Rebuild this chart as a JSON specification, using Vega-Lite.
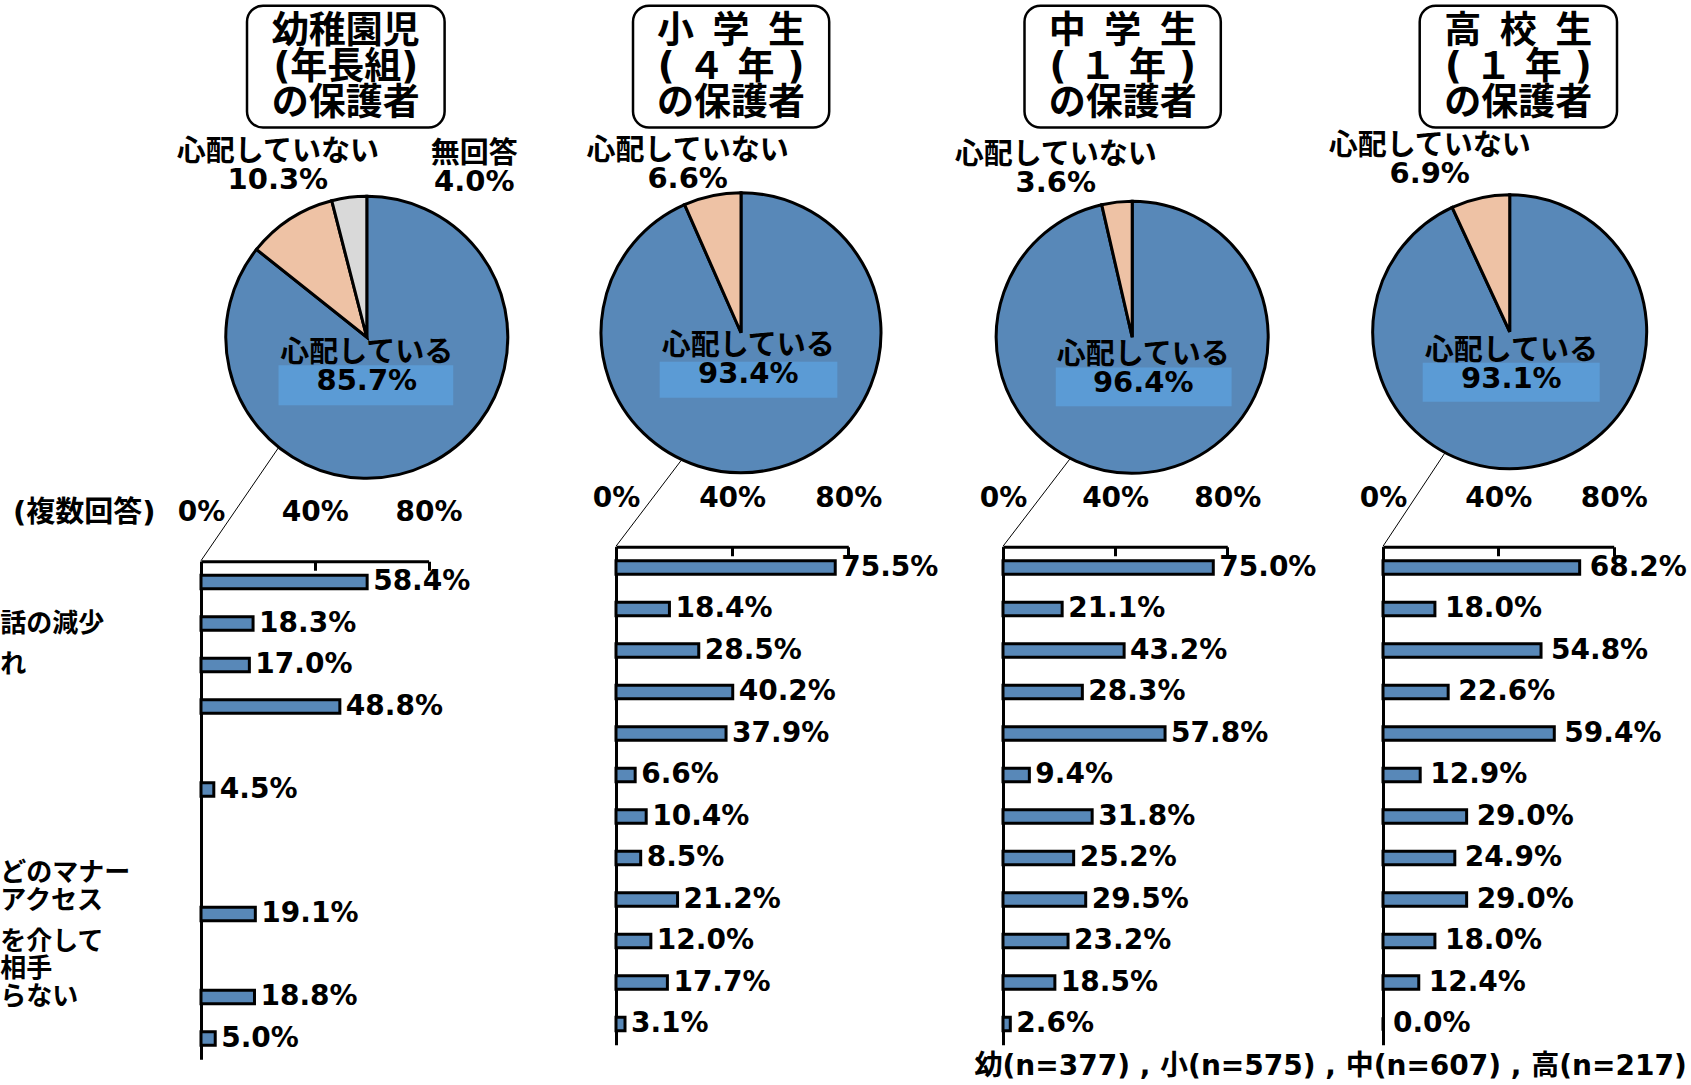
{
  "$schema": "https://vega.github.io/schema/vega-lite/v6.json",
  "background": "white",
  "padding": {"left": 0, "top": 3.75, "right": 0, "bottom": 0},
  "columns": 7,
  "bounds": "flush",
  "spacing": 0,
  "datasets": {
    "pies": [
      {"g": "幼", "c": "心配している", "v": 85.7, "ord": 1},
      {"g": "幼", "c": "心配していない", "v": 10.3, "ord": 2},
      {"g": "幼", "c": "無回答", "v": 4.0, "ord": 3},
      {"g": "小", "c": "心配している", "v": 93.4, "ord": 1},
      {"g": "小", "c": "心配していない", "v": 6.6, "ord": 2},
      {"g": "中", "c": "心配している", "v": 96.4, "ord": 1},
      {"g": "中", "c": "心配していない", "v": 3.6, "ord": 2},
      {"g": "高", "c": "心配している", "v": 93.1, "ord": 1},
      {"g": "高", "c": "心配していない", "v": 6.9, "ord": 2}
    ],
    "bars": [
      {"g": "幼", "q": "1", "v": 58.4}, {"g": "幼", "q": "2", "v": 18.3}, {"g": "幼", "q": "3", "v": 17.0}, {"g": "幼", "q": "4", "v": 48.8},
      {"g": "幼", "q": "6", "v": 4.5}, {"g": "幼", "q": "9", "v": 19.1}, {"g": "幼", "q": "11", "v": 18.8}, {"g": "幼", "q": "12", "v": 5.0},
      {"g": "小", "q": "1", "v": 75.5}, {"g": "小", "q": "2", "v": 18.4}, {"g": "小", "q": "3", "v": 28.5}, {"g": "小", "q": "4", "v": 40.2},
      {"g": "小", "q": "5", "v": 37.9}, {"g": "小", "q": "6", "v": 6.6}, {"g": "小", "q": "7", "v": 10.4}, {"g": "小", "q": "8", "v": 8.5},
      {"g": "小", "q": "9", "v": 21.2}, {"g": "小", "q": "10", "v": 12.0}, {"g": "小", "q": "11", "v": 17.7}, {"g": "小", "q": "12", "v": 3.1},
      {"g": "中", "q": "1", "v": 75.0}, {"g": "中", "q": "2", "v": 21.1}, {"g": "中", "q": "3", "v": 43.2}, {"g": "中", "q": "4", "v": 28.3},
      {"g": "中", "q": "5", "v": 57.8}, {"g": "中", "q": "6", "v": 9.4}, {"g": "中", "q": "7", "v": 31.8}, {"g": "中", "q": "8", "v": 25.2},
      {"g": "中", "q": "9", "v": 29.5}, {"g": "中", "q": "10", "v": 23.2}, {"g": "中", "q": "11", "v": 18.5}, {"g": "中", "q": "12", "v": 2.6},
      {"g": "高", "q": "1", "v": 68.2}, {"g": "高", "q": "2", "v": 18.0}, {"g": "高", "q": "3", "v": 54.8}, {"g": "高", "q": "4", "v": 22.6},
      {"g": "高", "q": "5", "v": 59.4}, {"g": "高", "q": "6", "v": 12.9}, {"g": "高", "q": "7", "v": 29.0}, {"g": "高", "q": "8", "v": 24.9},
      {"g": "高", "q": "9", "v": 29.0}, {"g": "高", "q": "10", "v": 18.0}, {"g": "高", "q": "11", "v": 12.4}, {"g": "高", "q": "12", "v": 0.0}
    ],
    "frags": [
      {"q": "2", "f": "話の減少"},
      {"q": "3", "f": "れ"},
      {"q": "8", "f": "どのマナー"},
      {"q": "9", "f": ["アクセス", ""]},
      {"q": "10", "f": ["を介して", "相手"]},
      {"q": "11", "f": "らない"}
    ]
  },
  "concat": [
    {"width": 227.6, "height": 540.5,
     "layer": [
      {"data": {"values": [{}]}, "mark": {"type": "rect", "fill": "white", "stroke": "black", "strokeWidth": 2.5, "cornerRadius": 16},
       "encoding": {"x": {"datum": -0.8496, "type": "quantitative", "scale": {"domain": [-1.1759, 0.4383], "nice": false, "zero": false}, "axis": null}, "x2": {"datum": 0.5518},
                    "y": {"datum": -2.3511, "type": "quantitative", "scale": {"domain": [-2.3511, 1.4823], "nice": false, "zero": false, "reverse": true}, "axis": null}, "y2": {"datum": -1.4879}}},
      {"data": {"values": [{"t": ["幼稚園児", "(年長組)", "の保護者"]}]},
       "mark": {"type": "text", "fontSize": 37, "fontWeight": "bold", "lineHeight": 36, "baseline": "middle", "align": "center"},
       "encoding": {"x": {"datum": -0.1489, "type": "quantitative"}, "y": {"datum": -2.1667, "type": "quantitative"}, "text": {"field": "t", "type": "nominal"}}},
      {"data": {"name": "pies"}, "transform": [{"filter": "datum.g === '幼'"}],
       "mark": {"type": "arc", "radius": 141, "stroke": "black", "strokeWidth": 3},
       "encoding": {
         "x": {"datum": 0, "type": "quantitative"},
         "y": {"datum": 0, "type": "quantitative"},
         "theta": {"field": "v", "type": "quantitative", "stack": true},
         "order": {"field": "ord", "type": "quantitative"},
         "color": {"field": "c", "type": "nominal", "scale": {"domain": ["心配している", "心配していない", "無回答"], "range": ["#5888b8", "#eec2a5", "#d9d9d9"]}, "legend": null}
       }},
      {"data": {"values": [{}]}, "mark": {"type": "rect", "fill": "#5b9bd5"},
       "encoding": {"x": {"datum": -0.626, "type": "quantitative"}, "x2": {"datum": 0.613}, "y": {"datum": 0.199, "type": "quantitative"}, "y2": {"datum": 0.482}}},
      {"data": {"name": "pies"}, "transform": [{"filter": "datum.g === '幼' && datum.c === '心配している'"}, {"calculate": "[datum.c, format(datum.v, '.1f') + '%']", "as": "lab"}],
       "mark": {"type": "text", "fontSize": 29, "fontWeight": "bold", "lineHeight": 28, "baseline": "middle", "align": "center"},
       "encoding": {"x": {"datum": 0, "type": "quantitative"}, "y": {"datum": 0.112, "type": "quantitative"}, "text": {"field": "lab", "type": "nominal"}}},
      {"data": {"name": "pies"}, "transform": [{"filter": "datum.g === '幼' && datum.c === '心配していない'"}, {"calculate": "[datum.c, format(datum.v, '.1f') + '%']", "as": "lab"}],
       "mark": {"type": "text", "fontSize": 29, "fontWeight": "bold", "lineHeight": 28, "baseline": "middle", "align": "center"},
       "encoding": {"x": {"datum": -0.631, "type": "quantitative"}, "y": {"datum": -1.312, "type": "quantitative"}, "text": {"field": "lab", "type": "nominal"}}},
      {"data": {"name": "pies"}, "transform": [{"filter": "datum.g === '幼' && datum.c === '無回答'"}, {"calculate": "[datum.c, format(datum.v, '.1f') + '%']", "as": "lab"}],
       "mark": {"type": "text", "fontSize": 29, "fontWeight": "bold", "lineHeight": 28, "baseline": "middle", "align": "center"},
       "encoding": {"x": {"datum": 0.762, "type": "quantitative"}, "y": {"datum": -1.298, "type": "quantitative"}, "text": {"field": "lab", "type": "nominal"}}},
      {"data": {"values": [{}]}, "mark": {"type": "rule", "stroke": "black", "strokeWidth": 1},
       "encoding": {"x": {"datum": -0.624, "type": "quantitative"}, "y": {"datum": 0.78, "type": "quantitative"}, "x2": {"datum": -1.176}, "y2": {"datum": 1.585}}}
     ]},
    {"width": 186.7, "height": 1, "data": {"values": []}, "mark": "point"},
    {"width": 232.3, "height": 540.5,
     "layer": [
      {"data": {"values": [{}]}, "mark": {"type": "rect", "fill": "white", "stroke": "black", "strokeWidth": 2.5, "cornerRadius": 16},
       "encoding": {"x": {"datum": -0.7714, "type": "quantitative", "scale": {"domain": [-0.8929, 0.7664], "nice": false, "zero": false}, "axis": null}, "x2": {"datum": 0.63},
                    "y": {"datum": -2.3357, "type": "quantitative", "scale": {"domain": [-2.3357, 1.525], "nice": false, "zero": false, "reverse": true}, "axis": null}, "y2": {"datum": -1.4664}}},
      {"data": {"values": [{"t": ["小\u2002学\u2002生", "( ４ 年 )", "の保護者"]}]},
       "mark": {"type": "text", "fontSize": 37, "fontWeight": "bold", "lineHeight": 36, "baseline": "middle", "align": "center"},
       "encoding": {"x": {"datum": -0.0707, "type": "quantitative"}, "y": {"datum": -2.15, "type": "quantitative"}, "text": {"field": "t", "type": "nominal"}}},
      {"data": {"name": "pies"}, "transform": [{"filter": "datum.g === '小'"}],
       "mark": {"type": "arc", "radius": 140, "stroke": "black", "strokeWidth": 3},
       "encoding": {
         "x": {"datum": 0, "type": "quantitative"},
         "y": {"datum": 0, "type": "quantitative"},
         "theta": {"field": "v", "type": "quantitative", "stack": true},
         "order": {"field": "ord", "type": "quantitative"},
         "color": {"field": "c", "type": "nominal", "scale": {"domain": ["心配している", "心配していない", "無回答"], "range": ["#5888b8", "#eec2a5", "#d9d9d9"]}, "legend": null}
       }},
      {"data": {"values": [{}]}, "mark": {"type": "rect", "fill": "#5b9bd5"},
       "encoding": {"x": {"datum": -0.581, "type": "quantitative"}, "x2": {"datum": 0.688}, "y": {"datum": 0.207, "type": "quantitative"}, "y2": {"datum": 0.464}}},
      {"data": {"name": "pies"}, "transform": [{"filter": "datum.g === '小' && datum.c === '心配している'"}, {"calculate": "[datum.c, format(datum.v, '.1f') + '%']", "as": "lab"}],
       "mark": {"type": "text", "fontSize": 29, "fontWeight": "bold", "lineHeight": 28, "baseline": "middle", "align": "center"},
       "encoding": {"x": {"datum": 0.052, "type": "quantitative"}, "y": {"datum": 0.098, "type": "quantitative"}, "text": {"field": "lab", "type": "nominal"}}},
      {"data": {"name": "pies"}, "transform": [{"filter": "datum.g === '小' && datum.c === '心配していない'"}, {"calculate": "[datum.c, format(datum.v, '.1f') + '%']", "as": "lab"}],
       "mark": {"type": "text", "fontSize": 29, "fontWeight": "bold", "lineHeight": 28, "baseline": "middle", "align": "center"},
       "encoding": {"x": {"datum": -0.381, "type": "quantitative"}, "y": {"datum": -1.3, "type": "quantitative"}, "text": {"field": "lab", "type": "nominal"}}},
      {"data": {"values": [{}]}, "mark": {"type": "rule", "stroke": "black", "strokeWidth": 1},
       "encoding": {"x": {"datum": -0.429, "type": "quantitative"}, "y": {"datum": 0.914, "type": "quantitative"}, "x2": {"datum": -0.893}, "y2": {"datum": 1.525}}}
     ]},
    {"width": 153.5, "height": 1, "data": {"values": []}, "mark": "point"},
    {"width": 224.3, "height": 540.5,
     "layer": [
      {"data": {"values": [{}]}, "mark": {"type": "rect", "fill": "white", "stroke": "black", "strokeWidth": 2.5, "cornerRadius": 16},
       "encoding": {"x": {"datum": -0.7919, "type": "quantitative", "scale": {"domain": [-0.95, 0.6993], "nice": false, "zero": false}, "axis": null}, "x2": {"datum": 0.6515},
                    "y": {"datum": -2.4375, "type": "quantitative", "scale": {"domain": [-2.4375, 1.5368], "nice": false, "zero": false, "reverse": true}, "axis": null}, "y2": {"datum": -1.5426}}},
      {"data": {"values": [{"t": ["中\u2002学\u2002生", "( １ 年 )", "の保護者"]}]},
       "mark": {"type": "text", "fontSize": 37, "fontWeight": "bold", "lineHeight": 36, "baseline": "middle", "align": "center"},
       "encoding": {"x": {"datum": -0.0702, "type": "quantitative"}, "y": {"datum": -2.2463, "type": "quantitative"}, "text": {"field": "t", "type": "nominal"}}},
      {"data": {"name": "pies"}, "transform": [{"filter": "datum.g === '中'"}],
       "mark": {"type": "arc", "radius": 136, "stroke": "black", "strokeWidth": 3},
       "encoding": {
         "x": {"datum": 0, "type": "quantitative"},
         "y": {"datum": 0, "type": "quantitative"},
         "theta": {"field": "v", "type": "quantitative", "stack": true},
         "order": {"field": "ord", "type": "quantitative"},
         "color": {"field": "c", "type": "nominal", "scale": {"domain": ["心配している", "心配していない", "無回答"], "range": ["#5888b8", "#eec2a5", "#d9d9d9"]}, "legend": null}
       }},
      {"data": {"values": [{}]}, "mark": {"type": "rect", "fill": "#5b9bd5"},
       "encoding": {"x": {"datum": -0.562, "type": "quantitative"}, "x2": {"datum": 0.731}, "y": {"datum": 0.222, "type": "quantitative"}, "y2": {"datum": 0.507}}},
      {"data": {"name": "pies"}, "transform": [{"filter": "datum.g === '中' && datum.c === '心配している'"}, {"calculate": "[datum.c, format(datum.v, '.1f') + '%']", "as": "lab"}],
       "mark": {"type": "text", "fontSize": 29, "fontWeight": "bold", "lineHeight": 28, "baseline": "middle", "align": "center"},
       "encoding": {"x": {"datum": 0.081, "type": "quantitative"}, "y": {"datum": 0.134, "type": "quantitative"}, "text": {"field": "lab", "type": "nominal"}}},
      {"data": {"name": "pies"}, "transform": [{"filter": "datum.g === '中' && datum.c === '心配していない'"}, {"calculate": "[datum.c, format(datum.v, '.1f') + '%']", "as": "lab"}],
       "mark": {"type": "text", "fontSize": 29, "fontWeight": "bold", "lineHeight": 28, "baseline": "middle", "align": "center"},
       "encoding": {"x": {"datum": -0.562, "type": "quantitative"}, "y": {"datum": -1.342, "type": "quantitative"}, "text": {"field": "lab", "type": "nominal"}}},
      {"data": {"values": [{}]}, "mark": {"type": "rule", "stroke": "black", "strokeWidth": 1},
       "encoding": {"x": {"datum": -0.459, "type": "quantitative"}, "y": {"datum": 0.896, "type": "quantitative"}, "x2": {"datum": -0.95}, "y2": {"datum": 1.537}}}
     ]},
    {"width": 154.2, "height": 1, "data": {"values": []}, "mark": "point"},
    {"width": 230.7, "height": 540.5,
     "layer": [
      {"data": {"values": [{}]}, "mark": {"type": "rect", "fill": "white", "stroke": "black", "strokeWidth": 2.5, "cornerRadius": 16},
       "encoding": {"x": {"datum": -0.6569, "type": "quantitative", "scale": {"domain": [-0.9248, 0.7591], "nice": false, "zero": false}, "axis": null}, "x2": {"datum": 0.7832},
                    "y": {"datum": -2.3796, "type": "quantitative", "scale": {"domain": [-2.3796, 1.5657], "nice": false, "zero": false, "reverse": true}, "axis": null}, "y2": {"datum": -1.4912}}},
      {"data": {"values": [{"t": ["高\u2002校\u2002生", "( １ 年 )", "の保護者"]}]},
       "mark": {"type": "text", "fontSize": 37, "fontWeight": "bold", "lineHeight": 36, "baseline": "middle", "align": "center"},
       "encoding": {"x": {"datum": 0.0631, "type": "quantitative"}, "y": {"datum": -2.1898, "type": "quantitative"}, "text": {"field": "t", "type": "nominal"}}},
      {"data": {"name": "pies"}, "transform": [{"filter": "datum.g === '高'"}],
       "mark": {"type": "arc", "radius": 137, "stroke": "black", "strokeWidth": 3},
       "encoding": {
         "x": {"datum": 0, "type": "quantitative"},
         "y": {"datum": 0, "type": "quantitative"},
         "theta": {"field": "v", "type": "quantitative", "stack": true},
         "order": {"field": "ord", "type": "quantitative"},
         "color": {"field": "c", "type": "nominal", "scale": {"domain": ["心配している", "心配していない", "無回答"], "range": ["#5888b8", "#eec2a5", "#d9d9d9"]}, "legend": null}
       }},
      {"data": {"values": [{}]}, "mark": {"type": "rect", "fill": "#5b9bd5"},
       "encoding": {"x": {"datum": -0.635, "type": "quantitative"}, "x2": {"datum": 0.657}, "y": {"datum": 0.226, "type": "quantitative"}, "y2": {"datum": 0.511}}},
      {"data": {"name": "pies"}, "transform": [{"filter": "datum.g === '高' && datum.c === '心配している'"}, {"calculate": "[datum.c, format(datum.v, '.1f') + '%']", "as": "lab"}],
       "mark": {"type": "text", "fontSize": 29, "fontWeight": "bold", "lineHeight": 28, "baseline": "middle", "align": "center"},
       "encoding": {"x": {"datum": 0.012, "type": "quantitative"}, "y": {"datum": 0.139, "type": "quantitative"}, "text": {"field": "lab", "type": "nominal"}}},
      {"data": {"name": "pies"}, "transform": [{"filter": "datum.g === '高' && datum.c === '心配していない'"}, {"calculate": "[datum.c, format(datum.v, '.1f') + '%']", "as": "lab"}],
       "mark": {"type": "text", "fontSize": 29, "fontWeight": "bold", "lineHeight": 28, "baseline": "middle", "align": "center"},
       "encoding": {"x": {"datum": -0.584, "type": "quantitative"}, "y": {"datum": -1.357, "type": "quantitative"}, "text": {"field": "lab", "type": "nominal"}}},
      {"data": {"values": [{}]}, "mark": {"type": "rule", "stroke": "black", "strokeWidth": 1},
       "encoding": {"x": {"datum": -0.47, "type": "quantitative"}, "y": {"datum": 0.88, "type": "quantitative"}, "x2": {"datum": -0.925}, "y2": {"datum": 1.566}}}
     ]},

    {"width": 227.6, "height": 512.5,
     "encoding": {"y": {"field": "q", "type": "nominal", "scale": {"domain": ["1","2","3","4","5","6","7","8","9","10","11","12"], "range": [14.5, 512.5], "paddingInner": 0.67, "paddingOuter": 0.335},
       "axis": {"orient": "left", "labels": false, "ticks": false, "title": null, "domainColor": "black", "domainWidth": 3, "grid": false}}},
     "layer": [
      {"data": {"name": "bars"}, "transform": [{"filter": "datum.g === '幼'"}],
       "mark": {"type": "bar", "fill": "#5888b8", "stroke": "black", "strokeWidth": 3},
       "encoding": {"x": {"field": "v", "type": "quantitative", "scale": {"domain": [0, 80], "nice": false},
         "axis": {"orient": "top", "offset": -14.5, "values": [0, 40, 80], "labelExpr": "datum.value + '%'", "domainColor": "black", "domainWidth": 3, "tickColor": "black", "tickWidth": 3, "tickSize": -9, "labelPadding": 57.5, "labelBaseline": "middle", "labelFontSize": 28, "labelFontWeight": "bold", "labelColor": "black", "labelFlush": false, "labelOverlap": false, "grid": false,
           "title": "(複数回答)", "titleX": -46, "titleY": -48.5, "titleAlign": "right", "titleBaseline": "middle", "titleAngle": 0, "titleFontSize": 29, "titleFontWeight": "bold", "titleColor": "black"}}}},
      {"data": {"name": "bars"}, "transform": [{"filter": "datum.g === '幼'"}, {"calculate": "format(datum.v, '.1f') + '%'", "as": "lab"}],
       "mark": {"type": "text", "align": "left", "baseline": "middle", "dx": 6, "fontSize": 28, "fontWeight": "bold"},
       "encoding": {"x": {"field": "v", "type": "quantitative"}, "text": {"field": "lab", "type": "nominal"}}},
      {"data": {"name": "frags"}, "transform": [{"filter": "!isArray(datum.f)"}],
       "mark": {"type": "text", "align": "left", "baseline": "middle", "fontSize": 26, "fontWeight": "bold", "lineHeight": 27},
       "encoding": {"x": {"datum": -70.54, "type": "quantitative"}, "text": {"field": "f", "type": "nominal"}}},
      {"data": {"name": "frags"}, "transform": [{"filter": "isArray(datum.f)"}],
       "mark": {"type": "text", "align": "left", "baseline": "middle", "fontSize": 26, "fontWeight": "bold", "lineHeight": 27, "dy": -13.5},
       "encoding": {"x": {"datum": -70.54, "type": "quantitative"}, "text": {"field": "f", "type": "nominal"}}}
     ]},
    {"width": 186.7, "height": 1, "data": {"values": []}, "mark": "point"},
    {"width": 232.3, "height": 498,
     "encoding": {"y": {"field": "q", "type": "nominal", "scale": {"domain": ["1","2","3","4","5","6","7","8","9","10","11","12"], "paddingInner": 0.67, "paddingOuter": 0.335},
       "axis": {"orient": "left", "labels": false, "ticks": false, "title": null, "domainColor": "black", "domainWidth": 3, "grid": false}}},
     "layer": [
      {"data": {"name": "bars"}, "transform": [{"filter": "datum.g === '小'"}],
       "mark": {"type": "bar", "fill": "#5888b8", "stroke": "black", "strokeWidth": 3},
       "encoding": {"x": {"field": "v", "type": "quantitative", "scale": {"domain": [0, 80], "nice": false},
         "axis": {"orient": "top", "values": [0, 40, 80], "labelExpr": "datum.value + '%'", "domainColor": "black", "domainWidth": 3, "tickColor": "black", "tickWidth": 3, "tickSize": -9, "labelPadding": 57.5, "labelBaseline": "middle", "labelFontSize": 28, "labelFontWeight": "bold", "labelColor": "black", "labelFlush": false, "labelOverlap": false, "grid": false, "title": null}}}},
      {"data": {"name": "bars"}, "transform": [{"filter": "datum.g === '小'"}, {"calculate": "format(datum.v, '.1f') + '%'", "as": "lab"}],
       "mark": {"type": "text", "align": "left", "baseline": "middle", "dx": 6, "fontSize": 28, "fontWeight": "bold"},
       "encoding": {"x": {"field": "v", "type": "quantitative"}, "text": {"field": "lab", "type": "nominal"}}}
     ]},
    {"width": 153.5, "height": 1, "data": {"values": []}, "mark": "point"},
    {"width": 224.3, "height": 498,
     "encoding": {"y": {"field": "q", "type": "nominal", "scale": {"domain": ["1","2","3","4","5","6","7","8","9","10","11","12"], "paddingInner": 0.67, "paddingOuter": 0.335},
       "axis": {"orient": "left", "labels": false, "ticks": false, "title": null, "domainColor": "black", "domainWidth": 3, "grid": false}}},
     "layer": [
      {"data": {"name": "bars"}, "transform": [{"filter": "datum.g === '中'"}],
       "mark": {"type": "bar", "fill": "#5888b8", "stroke": "black", "strokeWidth": 3},
       "encoding": {"x": {"field": "v", "type": "quantitative", "scale": {"domain": [0, 80], "nice": false},
         "axis": {"orient": "top", "values": [0, 40, 80], "labelExpr": "datum.value + '%'", "domainColor": "black", "domainWidth": 3, "tickColor": "black", "tickWidth": 3, "tickSize": -9, "labelPadding": 57.5, "labelBaseline": "middle", "labelFontSize": 28, "labelFontWeight": "bold", "labelColor": "black", "labelFlush": false, "labelOverlap": false, "grid": false, "title": null}}}},
      {"data": {"name": "bars"}, "transform": [{"filter": "datum.g === '中'"}, {"calculate": "format(datum.v, '.1f') + '%'", "as": "lab"}],
       "mark": {"type": "text", "align": "left", "baseline": "middle", "dx": 6, "fontSize": 28, "fontWeight": "bold"},
       "encoding": {"x": {"field": "v", "type": "quantitative"}, "text": {"field": "lab", "type": "nominal"}}}
     ]},
    {"width": 154.2, "height": 1, "data": {"values": []}, "mark": "point"},
    {"width": 230.7, "height": 498,
     "title": {"text": "幼(n=377) , 小(n=575) , 中(n=607) , 高(n=217)", "orient": "bottom", "anchor": "end", "frame": "group", "offset": 8, "dx": 73, "fontSize": 28, "fontWeight": "bold", "color": "black"},
     "encoding": {"y": {"field": "q", "type": "nominal", "scale": {"domain": ["1","2","3","4","5","6","7","8","9","10","11","12"], "paddingInner": 0.67, "paddingOuter": 0.335},
       "axis": {"orient": "left", "labels": false, "ticks": false, "title": null, "domainColor": "black", "domainWidth": 3, "grid": false}}},
     "layer": [
      {"data": {"name": "bars"}, "transform": [{"filter": "datum.g === '高'"}],
       "mark": {"type": "bar", "fill": "#5888b8", "stroke": "black", "strokeWidth": 3},
       "encoding": {"x": {"field": "v", "type": "quantitative", "scale": {"domain": [0, 80], "nice": false},
         "axis": {"orient": "top", "values": [0, 40, 80], "labelExpr": "datum.value + '%'", "domainColor": "black", "domainWidth": 3, "tickColor": "black", "tickWidth": 3, "tickSize": -9, "labelPadding": 57.5, "labelBaseline": "middle", "labelFontSize": 28, "labelFontWeight": "bold", "labelColor": "black", "labelFlush": false, "labelOverlap": false, "grid": false, "title": null}}}},
      {"data": {"name": "bars"}, "transform": [{"filter": "datum.g === '高'"}, {"calculate": "format(datum.v, '.1f') + '%'", "as": "lab"}],
       "mark": {"type": "text", "align": "left", "baseline": "middle", "dx": 10, "fontSize": 28, "fontWeight": "bold"},
       "encoding": {"x": {"field": "v", "type": "quantitative"}, "text": {"field": "lab", "type": "nominal"}}}
     ]}
  ],
  "config": {
    "view": {"stroke": null},
    "font": "DejaVu Sans, Noto Sans CJK JP",
    "text": {"font": "DejaVu Sans, Noto Sans CJK JP", "fontWeight": "bold", "color": "black"},
    "title": {"font": "DejaVu Sans, Noto Sans CJK JP"},
    "axis": {"labelFont": "DejaVu Sans, Noto Sans CJK JP", "titleFont": "DejaVu Sans, Noto Sans CJK JP"}
  }
}
